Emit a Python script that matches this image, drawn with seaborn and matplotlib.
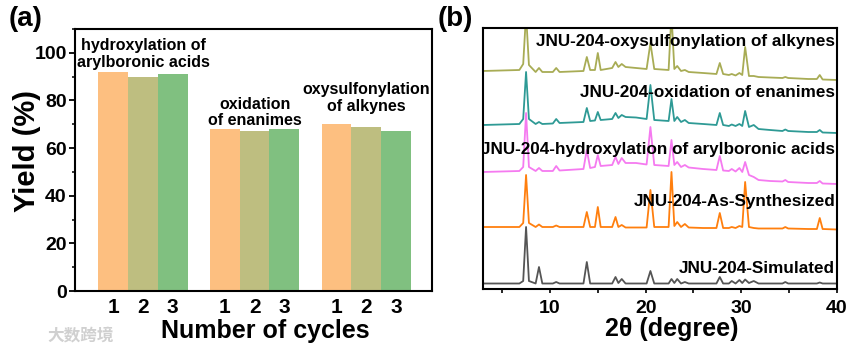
import numpy as np
import pandas as pd
import matplotlib
matplotlib.use('Agg')
import matplotlib.pyplot as plt
from matplotlib.ticker import MultipleLocator
import seaborn as sns

sns.set_theme(style='ticks')
plt.rcParams['font.family'] = ['Liberation Sans', 'DejaVu Sans']
plt.rcParams['font.weight'] = 'bold'
plt.rcParams['text.color'] = 'black'
plt.rcParams['axes.labelcolor'] = 'black'
plt.rcParams['xtick.color'] = 'black'
plt.rcParams['ytick.color'] = 'black'

# (a) 循环产率
reactions = ['hydroxylation of\narylboronic acids', 'oxidation\nof enanimes',
             'oxysulfonylation\nof alkynes']
cycles = ['1', '2', '3']
yield_c1 = [92, 68, 70]
yield_c2 = [90, 67, 69]
yield_c3 = [91, 68, 67]
bar_colors = ['#FDBF80', '#BEBE80', '#80C080']
label_y = [93, 68.5, 74.5]

# (b) PXRD, 共用 2θ 网格
two_theta = [3.0, 6.8, 7.2, 7.5, 7.8, 8.5, 8.85, 9.2, 10.3, 10.65, 11.0, 13.5, 13.85, 14.2,
             14.7, 15.0, 15.3, 16.5, 16.85, 17.15, 17.5, 17.9, 19.0, 20.1, 20.5, 20.9, 22.4,
             22.7, 23.0, 23.3, 23.7, 24.1, 24.5, 26.0, 27.4, 27.75, 28.1, 28.7, 29.0, 29.4,
             29.8, 30.1, 30.4, 30.8, 31.3, 31.8, 33.0, 34.3, 34.6, 34.9, 37.0, 37.9, 38.2,
             38.5, 40.0]
simulated = [5.5, 5.5, 8, 62, 8, 5.5, 22, 5.5, 5.5, 7, 5.5, 5.5, 27, 5.5,
             5.5, 5.5, 5.5, 5.5, 12, 6, 10, 5.5, 5.5, 5.5, 18, 5.5, 5.5,
             10, 6, 10, 5.5, 7, 5.5, 5.5, 5.5, 12, 5.5, 5.5, 8, 5.5,
             9, 6, 9.5, 6, 8, 5.5, 5.5, 5.5, 7, 5.5, 5.5, 5.5, 6.5,
             5.5, 5.5]
as_synth = [62, 62, 66, 114, 66, 62, 64.5, 62, 62, 63.5, 62, 62, 77, 62,
            62, 82, 62, 62, 72, 62, 64, 61.5, 61.5, 61.5, 99, 62, 62,
            117, 63, 67, 62, 65, 61.5, 61, 61, 76, 61, 61, 62, 61,
            63, 62, 107, 62, 61, 60.5, 60.5, 60.5, 62, 60.5, 60, 60, 71,
            60, 59.5]
hydroxyl = [117, 118, 122, 176, 122, 118, 121, 118, 118, 123, 118.5, 120, 139, 121,
            122, 134, 123, 124, 132, 125, 131, 126, 126, 124.5, 162, 124, 123,
            149, 124, 127, 122, 124, 121.5, 120, 119, 133, 118.5, 118, 120, 117.5,
            121, 117, 127, 114, 112, 109, 108, 107.5, 109, 107, 106, 106, 108,
            105.5, 105]
oxidation = [164, 165, 170, 217, 170, 165, 167, 165, 165.5, 170, 166, 167, 181, 168,
             168.5, 177, 169, 170, 176, 171, 174, 172, 171.5, 170, 204, 169, 168,
             190, 168, 172, 167, 169, 166, 165, 164, 176, 164, 163, 164.5, 163,
             165, 163, 178, 162, 164, 160, 159, 158, 159.5, 158, 157, 157, 159,
             156.5, 156]
oxysulf = [218, 219, 225, 275, 224, 217, 221, 217, 217, 221, 217, 218, 232, 219,
           219, 236, 219, 221, 227, 222, 225, 222, 221, 220, 246, 220, 219,
           275, 220, 223, 218, 219, 217, 216, 215, 226, 215, 214, 215, 213.5,
           216, 214, 242, 213, 213, 212, 211.5, 211, 212, 211, 210, 210, 214,
           209.5, 209]
trace_names = ['JNU-204-Simulated', 'JNU-204-As-Synthesized',
               'JNU-204-hydroxylation of arylboronic acids',
               'JNU-204-oxidation of enanimes', 'JNU-204-oxysulfonylation of alkynes']
trace_colors = ['#555555', '#FF7F0E', '#F57AF0', '#2E9A95', '#A8AC55']
trace_label_y = [21, 87, 139, 196, 247]

df_bar = pd.DataFrame({
    'reaction': np.repeat(reactions, 3),
    'cycle': cycles * 3,
    'yield': np.ravel(np.column_stack([yield_c1, yield_c2, yield_c3])),
})

fig = plt.figure(figsize=(8.65, 3.53), dpi=100)
ax1 = fig.add_axes([0.0867, 0.1756, 0.4127, 0.7422])
ax2 = fig.add_axes([0.5584, 0.1813, 0.4092, 0.7394])

# ---- (a)
sns.barplot(data=df_bar, x='reaction', y='yield', hue='cycle', palette=bar_colors,
            saturation=1, width=0.8, legend=False, ax=ax1)
for p in ax1.patches:
    p.set_edgecolor('none')
centers = sorted(p.get_x() + p.get_width() / 2 for p in ax1.patches)
ax1.set_xticks(centers)
ax1.set_xticklabels(cycles * 3, fontsize=15, fontweight='bold')
ax1.tick_params(axis='x', length=0, pad=5)
for i, (txt, yy) in enumerate(zip(reactions, label_y)):
    ax1.text(i, yy, txt, ha='center', va='bottom', fontsize=11.5, fontweight='bold',
             linespacing=1.1)
ax1.set_xlim(-0.61, 2.59)
ax1.set_ylim(0, 110)
ax1.yaxis.set_minor_locator(MultipleLocator(10))
ax1.set_yticks(range(0, 101, 20))
ax1.set_yticklabels([str(v) for v in range(0, 101, 20)], fontsize=14, fontweight='bold')
ax1.tick_params(axis='y', which='major', direction='out', length=4, width=1.3, pad=2)
ax1.tick_params(axis='y', which='minor', direction='out', length=2.5, width=1.1)
ax1.set_xlabel('Number of cycles', fontsize=18, fontweight='bold')
ax1.set_ylabel('Yield (%)', fontsize=21, fontweight='bold')
ax1.xaxis.set_label_coords(0.532, -0.105)
ax1.yaxis.set_label_coords(-0.095, 0.534)
for s in ax1.spines.values():
    s.set_visible(True)
    s.set_linewidth(1.5)
    s.set_color('black')

# ---- (b)
series = [simulated, as_synth, hydroxyl, oxidation, oxysulf]
for vals, c in zip(series, trace_colors):
    sns.lineplot(x=two_theta, y=vals, ax=ax2, color=c, lw=1.3, sort=False, estimator=None)
for name, yy in zip(trace_names, trace_label_y):
    ax2.text(39.8, yy, name, ha='right', va='center', fontsize=12.3, fontweight='bold',
             clip_on=True)
ax2.set_xlim(3, 40)
ax2.set_ylim(0, 261)
ax2.set_yticks([])
ax2.xaxis.set_minor_locator(MultipleLocator(5))
ax2.set_xticks([10, 20, 30, 40])
ax2.set_xticklabels(['10', '20', '30', '40'], fontsize=14, fontweight='bold')
ax2.tick_params(axis='x', which='both', direction='out', length=3, width=1.2, pad=5)
ax2.set_xlabel('2θ (degree)', fontsize=18, fontweight='bold')
ax2.xaxis.set_label_coords(0.534, -0.108)
for s in ax2.spines.values():
    s.set_visible(True)
    s.set_linewidth(1.5)
    s.set_color('black')

fig.text(0.010, 0.925, '(a)', fontsize=20, fontweight='bold')
fig.text(0.506, 0.925, '(b)', fontsize=20, fontweight='bold')
fig.text(0.055, 0.035, '大数跨境', fontsize=12, color='#d0d0d0',
         family=['Noto Sans CJK SC', 'DejaVu Sans'])

fig.savefig('out.png', dpi=100)
